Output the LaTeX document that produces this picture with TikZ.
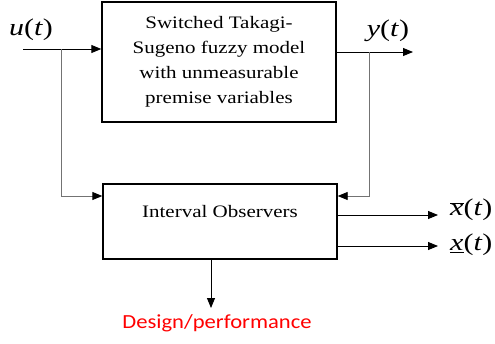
\documentclass[tikz,border=0pt]{standalone}
\usepackage{graphicx}
\usepackage{fontspec}
\setmainfont{Liberation Serif}
\newfontfamily\calib{Carlito}
\usetikzlibrary{arrows.meta,calc}
\tikzset{
  blk/.style={draw=black, line width=1.4pt, minimum width=234pt, inner sep=0pt},
  conn/.style={line width=0.9pt, -{Triangle[length=10pt,width=8pt,color=black]}},
  feed/.style={line width=0.9pt, draw=black!55, -{Triangle[length=10pt,width=8pt,color=black]}},
  boxtxt/.style={font=\fontsize{17.5}{25}\selectfont, align=center},
  sig/.style={font=\fontsize{24}{26}\selectfont, inner sep=0pt},
}
\newcommand{\hstretch}[2]{\scalebox{#1}[1]{#2}}
\begin{document}
\begin{tikzpicture}[x=1pt,y=-1pt]
\useasboundingbox (0,0) rectangle (495,343);
\node[blk, minimum height=120pt, boxtxt] (sys) at (219,62) {\hstretch{1.2}{Switched Takagi-}\\\hstretch{1.2}{Sugeno fuzzy model}\\\hstretch{1.2}{with unmeasurable}\\\hstretch{1.2}{premise variables}};
\node[blk, minimum height=75pt] (obs) at (220,221.5) {};
\node[boxtxt] (obstxt) at (220,212) {\hstretch{1.2}{Interval Observers}};
\coordinate (uin) at (23,49);
\coordinate (ub) at (61,49);
\coordinate (oinl) at (61,196);
\coordinate (yout) at (413,52);
\coordinate (yb) at (369,52);
\coordinate (oinr) at (369,196);
\coordinate (xu) at (438,215);
\coordinate (xl) at (438,246);
\coordinate (dtop) at (211,259);
\coordinate (dbot) at (211,308);
\node[sig] (ulab) at (31,30) {\hstretch{1.25}{\textit{u}(\textit{t})}};
\node[sig] (ylab) at (388,31) {\hstretch{1.25}{\textit{y}(\textit{t})}};
\node[sig, anchor=west] (xulab) at (450,210) {\hstretch{1.25}{$\overline{\textit{x}\vphantom{a}}$(\textit{t})}};
\node[sig, anchor=west] (xllab) at (450,245) {\hstretch{1.25}{\underline{\textit{x}}(\textit{t})}};
\node[font=\calib\fontsize{20}{22}\selectfont, text=red] (perf) at (217,323) {\hstretch{1.13}{Design/performance}};
\draw[conn] (uin) -- (uin -| sys.west);
\draw[conn] (sys.east |- yout) -- (yout);
\draw[feed, -] (ub) -- (oinl);
\draw[feed] (oinl) -- (oinl -| obs.west);
\draw[feed] (yb) |- (oinr -| obs.east);
\draw[conn] (obs.east |- xu) -- (xu);
\draw[conn] (obs.east |- xl) -- (xl);
\draw[conn] (dtop) -- (dbot);
\end{tikzpicture}
\end{document}
